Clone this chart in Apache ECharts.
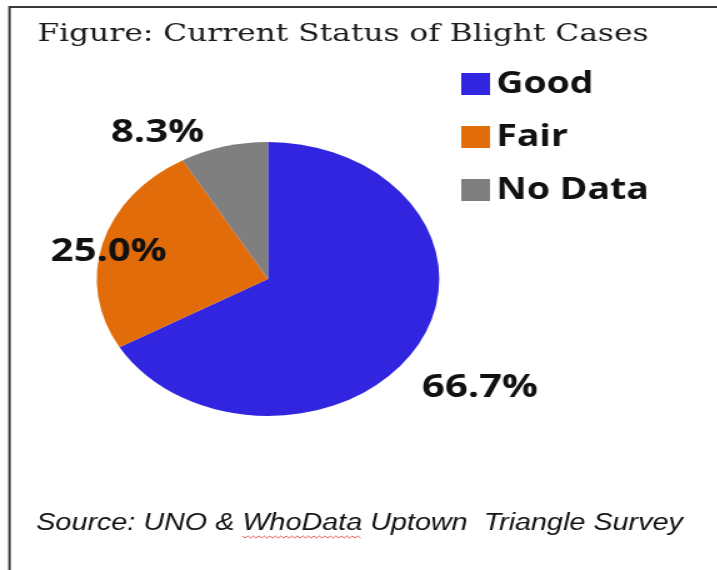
<!DOCTYPE html>
<html>
<head>
<meta charset="utf-8">
<script src="https://cdn.jsdelivr.net/npm/echarts@6/dist/echarts.min.js"></script>
<style>
html,body{margin:0;padding:0;background:#fff;overflow:hidden;width:717px;height:570px;}
#c{width:574px;height:570px;transform:scaleX(1.25);transform-origin:0 0;}
</style>
</head>
<body>
<div id="c"></div>
<script>
const categories = ['Good', 'Fair', 'No Data'];
const values = [66.7, 25.0, 8.3];
const colors = ['#3125DF', '#E36C0A', '#7F7F7F'];
const titleText = 'Figure: Current Status of Blight Cases';
const sourcePre = 'Source: UNO & ';
const sourceWord = 'WhoData';
const sourcePost = ' Uptown  Triangle Survey';

const labelPos = [[384, 388], [87, 252], [126, 133]];

const srcFont = 'italic 23px "Liberation Sans"';
const srcLeft = 29, srcTop = 512;
const mctx = document.createElement('canvas').getContext('2d');
mctx.font = srcFont;
const wx0 = srcLeft + mctx.measureText(sourcePre).width;
const wx1 = wx0 + mctx.measureText(sourceWord).width;
const squiggle = [];
for (let x = wx0, k = 0; x <= wx1; x += 2.2, k++) squiggle.push([x, srcTop + 24 + (k % 2 ? 2 : 0)]);

const chart = echarts.init(document.getElementById('c'), null, {renderer: 'canvas'});
chart.setOption({
  backgroundColor: '#ffffff',
  animation: false,
  color: colors,
  graphic: [
    {type: 'line', shape: {x1: 7.6, y1: 7, x2: 600, y2: 7}, style: {stroke: '#3a3a3a', lineWidth: 2}},
    {type: 'line', shape: {x1: 7.6, y1: 6, x2: 7.6, y2: 600}, style: {stroke: '#3a3a3a', lineWidth: 2}},
    {type: 'text', left: 30, top: 22, style: {text: titleText, font: '25px "DejaVu Serif"', fill: '#1a1a1a'}},
    {type: 'text', left: srcLeft, top: srcTop, style: {text: sourcePre + sourceWord + sourcePost, font: srcFont, fill: '#111'}},
    {type: 'polyline', shape: {points: squiggle}, style: {stroke: '#e03030', lineWidth: 0.8, fill: null}}
  ],
  legend: {
    orient: 'vertical',
    left: 369,
    top: 68,
    padding: 0,
    icon: 'rect',
    itemWidth: 23,
    itemHeight: 22,
    itemGap: 21,
    data: categories,
    textStyle: {fontFamily: 'Open Sans', fontWeight: 'bold', fontSize: 30, color: '#111', lineHeight: 32}
  },
  series: [{
    type: 'pie',
    center: [214.4, 279],
    radius: [0, 137],
    startAngle: 90,
    clockwise: true,
    data: categories.map((n, i) => ({name: n, value: values[i]})),
    label: {
      show: true,
      position: 'inside',
      formatter: p => p.value.toFixed(1) + '%',
      fontFamily: 'Open Sans',
      fontWeight: 'bold',
      fontSize: 32,
      color: '#111'
    },
    labelLine: {show: false},
    labelLayout: p => ({x: labelPos[p.dataIndex][0], y: labelPos[p.dataIndex][1], align: 'center', verticalAlign: 'middle'}),
    emphasis: {disabled: true}
  }]
});
</script>
</body>
</html>
